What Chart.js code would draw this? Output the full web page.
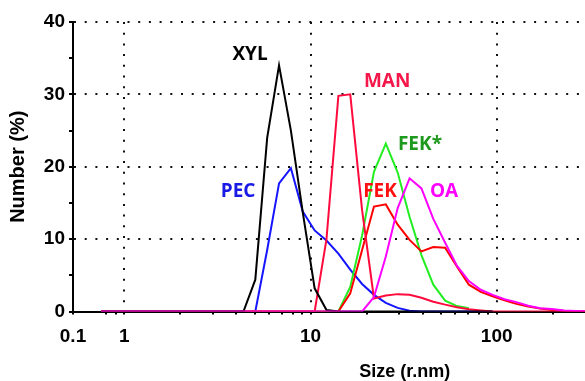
<!DOCTYPE html>
<html>
<head>
<meta charset="utf-8">
<script src="https://cdn.jsdelivr.net/npm/chart.js@4.4.0/dist/chart.umd.min.js"></script>
<style>
  html,
  body {
    margin: 0;
    padding: 0;
    background: #fff;
  }
</style>
</head>
<body>
<canvas id="sizeGraph" width="585" height="381"></canvas>
<script>
// size classes (radius, nm)
const sizes = [
  0.749, 0.868, 1.005, 1.164, 1.348, 1.561, 1.807, 2.093, 2.424, 2.807,
  3.251, 3.766, 4.361, 5.05, 5.848, 6.773, 7.843, 9.083, 10.52, 12.18,
  14.11, 16.34, 18.92, 21.91, 25.37, 29.38, 34.03, 39.41, 45.64, 52.85,
  61.2, 70.88, 82.09, 95.07, 110.1, 127.5, 147.7, 171.0, 198.1, 229.4,
  265.6, 307.6,
];

// number (%) per size class, null = not plotted
const oa = [
  0, 0, 0, 0, 0, 0, 0, 0, 0, 0,
  0, 0, 0, 0, 0, 0, 0, 0, 0, 0,
  0, 0, 0, 2.0, 7.6, 14.3, 18.4, 17.0, 12.8, 9.5,
  6.3, 4.2, 3.0, 2.3, 1.7, 1.3, 0.8, 0.45, 0.35, 0.15,
  0.08, 0,
];
const xyl = [
  0, 0, 0, 0, 0, 0, 0, 0, 0, 0,
  0, 0, 0, 4.4, 24, 34, 25, 13.7, 3.2, 0.2,
  0, 0, 0, 0, 0, 0, 0, 0, 0, 0,
  0, 0, 0, 0, null, null, null, null, null, null,
  null, null,
];
const man = [
  0, 0, 0, 0, 0, 0, 0, 0, 0, 0,
  0, 0, 0, 0, 0, 0, 0, 0, 0, 10,
  29.8, 30, 14, 1.8, 2.2, 2.4, 2.3, 1.9, 1.35, 0.95,
  0.6, 0.3, 0.15, 0, 0, 0, 0, 0, 0, 0,
  0, 0,
];
const fek = [
  0, 0, 0, 0, 0, 0, 0, 0, 0, 0,
  0, 0, 0, 0, 0, 0, 0, 0, 0, 0,
  0, 2.5, 8.5, 14.5, 14.8, 12.0, 9.9, 8.3, 8.9, 8.8,
  6.2, 3.7, 2.7, 2.1, 1.55, 1.05, 0.7, 0.4, 0.2, 0.1,
  0.05, 0,
];
const fekStar = [
  0, 0, 0, 0, 0, 0, 0, 0, 0, 0,
  0, 0, 0, 0, 0, 0, 0, 0, 0, 0,
  0, 3.4, 10.5, 19.3, 23.2, 19.2, 13.1, 7.8, 3.7, 1.5,
  0.75, 0.45, null, null, null, null, null, null, null, null,
  null, null,
];
const pec = [
  0, 0, 0, 0, 0, 0, 0, 0, 0, 0,
  0, 0, 0, 0, 8.5, 17.7, 19.8, 13.8, 11.2, 9.8,
  8.0, 5.8, 3.8, 2.3, 1.2, 0.5, 0.1, 0, 0, 0,
  0, 0, 0, 0, null, null, null, null, null, null,
  null, null,
];

const xMajor = [0.1, 1, 10, 100];
const xMinor = [0.8, 0.9, 2, 3, 4, 5, 6, 7, 8, 9, 20, 30, 40, 50, 60, 70, 80, 90, 200];

const seriesLabels = [
  { text: "XYL", size: 4.73, value: 35.5, color: "#000000" },
  { text: "PEC", size: 4.08, value: 16.6, color: "#1a1ae6" },
  { text: "MAN", size: 25.8, value: 31.7, color: "#f5174a" },
  { text: "FEK*", size: 38.7, value: 23.1, color: "#1e9a1e" },
  { text: "FEK", size: 23.6, value: 16.5, color: "#ff1010" },
  { text: "OA", size: 52.1, value: 16.5, color: "#ff00ff" },
];

// log axis whose 0.1 - 0.75 stretch is squeezed, as in the instrument export
class BrokenLogScale extends Chart.LogarithmicScale {
  static id = "brokenLog";
  static defaults = {};

  _decimal(value) {
    const lo = Math.log10(this.min);
    const hi = Math.log10(this.max);
    const br = Math.log10(this.options.breakAt);
    const f = this.options.breakFraction;
    const lv = Math.log10(value);
    if (lv <= br) return ((lv - lo) / (br - lo)) * f;
    return f + ((lv - br) / (hi - br)) * (1 - f);
  }

  getPixelForValue(value) {
    if (value === null || value === undefined || isNaN(value) || value <= 0) return NaN;
    return this.getPixelForDecimal(this._decimal(value));
  }

  getValueForPixel(pixel) {
    const d = this.getDecimalForPixel(pixel);
    const lo = Math.log10(this.min);
    const hi = Math.log10(this.max);
    const br = Math.log10(this.options.breakAt);
    const f = this.options.breakFraction;
    if (d <= f) return Math.pow(10, lo + (d / f) * (br - lo));
    return Math.pow(10, br + ((d - f) / (1 - f)) * (hi - br));
  }
}
Chart.register(BrokenLogScale);

function points(values) {
  return sizes
    .map((s, i) => ({ x: s, y: values[i] }))
    .filter((p) => p.y !== null);
}

function series(label, values, color) {
  return {
    label: label,
    data: points(values),
    borderColor: color,
    backgroundColor: color,
    borderWidth: 2,
    tension: 0,
    pointRadius: 0,
    fill: false,
  };
}

const textPlugin = {
  id: "seriesText",
  afterDatasetsDraw(chart) {
    const { ctx, chartArea } = chart;
    const x = chart.scales.x;
    const y = chart.scales.y;
    ctx.save();
    ctx.textAlign = "center";
    ctx.textBaseline = "middle";
    ctx.font = "bold 19px 'Open Sans'";
    seriesLabels.forEach((l) => {
      ctx.fillStyle = l.color;
      ctx.fillText(l.text, x.getPixelForValue(l.size), y.getPixelForValue(l.value));
    });
    ctx.font = "bold 18px 'Liberation Sans'";
    ctx.fillStyle = "#000";
    ctx.fillText("Size (r.nm)", chartArea.left + (chartArea.right - chartArea.left) * 0.648, x.bottom - 9);
    ctx.restore();
  },
};

const tickFont = { family: "'Liberation Sans', Arial", size: 19, weight: "bold" };
const dots = "#111";

const canvas = document.querySelector("#sizeGraph");
const sizeChart = new Chart(canvas, {
  type: "line",
  data: {
    datasets: [
      series("OA", oa, "#ff00ff"),
      series("XYL", xyl, "#000000"),
      series("MAN", man, "#ff0a3c"),
      series("FEK", fek, "#ff0000"),
      series("FEK*", fekStar, "#22ee22"),
      series("PEC", pec, "#1515ff"),
    ],
  },
  options: {
    responsive: false,
    animation: false,
    layout: {
      padding: { top: 22, right: 0, bottom: 0, left: 0 },
    },
    scales: {
      x: {
        type: "brokenLog",
        min: 0.1,
        max: 298,
        breakAt: 0.749,
        breakFraction: 0.0547,
        bounds: "data",
        afterBuildTicks: (scale) => {
          scale.ticks = xMajor
            .concat(xMinor)
            .sort((a, b) => a - b)
            .map((v) => ({ value: v, major: xMajor.includes(v) }));
        },
        afterFit: (scale) => {
          scale.height = 69.5;
        },
        ticks: {
          autoSkip: false,
          maxRotation: 0,
          padding: 11,
          color: "#000",
          font: tickFont,
          callback: (value) => (xMajor.includes(value) ? String(value) : ""),
        },
        grid: {
          color: (ctx) => (ctx.tick && [1, 10, 100].includes(ctx.tick.value) ? dots : "transparent"),
          lineWidth: 2,
          tickLength: 3,
          tickWidth: 2,
          tickColor: "#000",
        },
        border: {
          display: true,
          color: "#000",
          width: 2,
          dash: [2, 8.7],
        },
      },
      y: {
        type: "linear",
        min: 0,
        max: 40,
        afterFit: (scale) => {
          scale.width = 73;
        },
        ticks: {
          stepSize: 5,
          padding: 4,
          color: "#000",
          font: tickFont,
          callback: (value) => (value % 10 === 0 ? value : ""),
        },
        grid: {
          color: (ctx) => (ctx.tick && ctx.tick.value % 10 === 0 && ctx.tick.value !== 0 ? dots : "transparent"),
          lineWidth: 2,
          tickLength: 4,
          tickWidth: 2,
          tickColor: "#000",
        },
        border: {
          display: true,
          color: "#000",
          width: 2,
          dash: [2, 8.7],
        },
        title: {
          display: true,
          text: "Number (%)",
          color: "#000",
          font: { family: "'Liberation Sans', Arial", size: 20, weight: "bold" },
          padding: { top: 6, bottom: 0 },
        },
      },
    },
    plugins: {
      legend: { display: false },
      tooltip: { enabled: false },
    },
  },
  plugins: [textPlugin],
});
</script>
</body>
</html>
